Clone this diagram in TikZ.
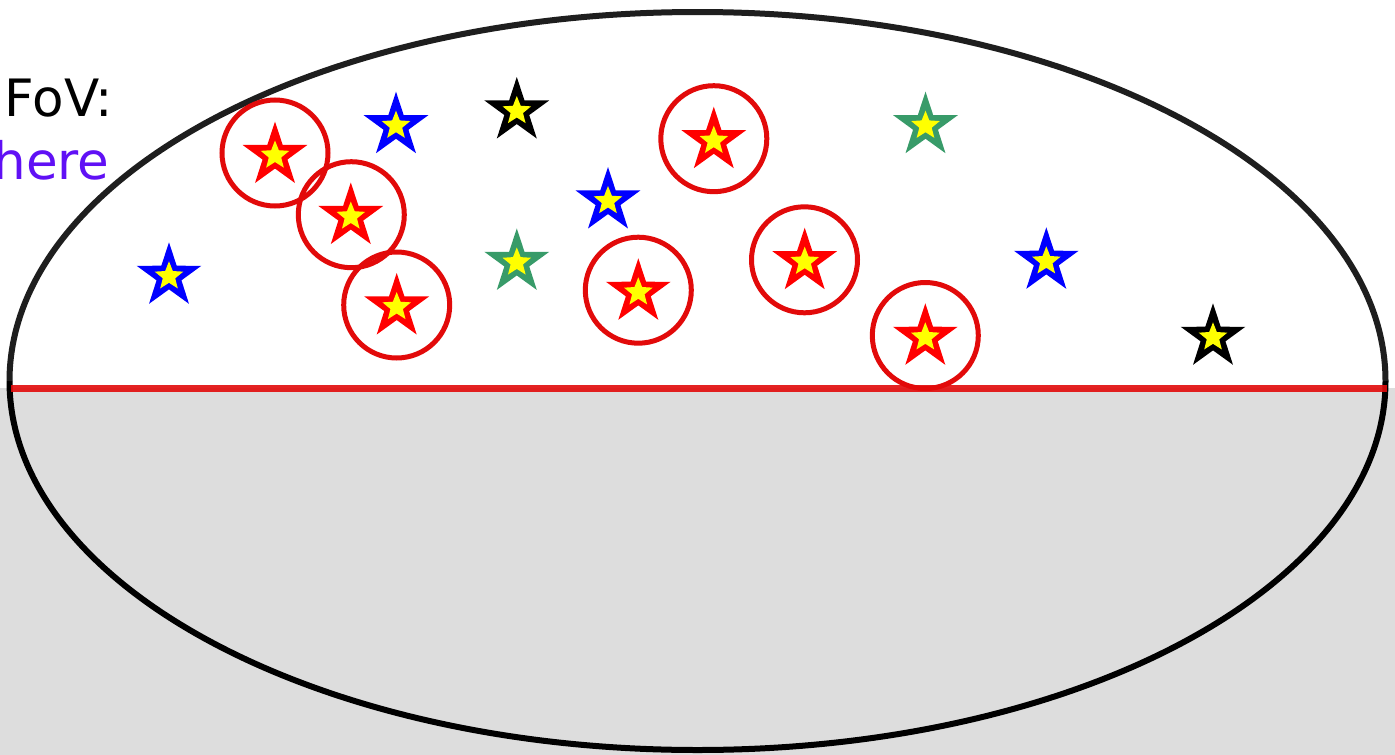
\documentclass[tikz,border=0pt]{standalone}
\usepackage{fontspec}
\setmainfont{DejaVu Sans}
\usetikzlibrary{shapes.geometric}
\definecolor{bggray}{RGB}{221,221,221}
\definecolor{ringred}{RGB}{226,10,10}
\definecolor{starred}{RGB}{255,0,0}
\definecolor{starblue}{RGB}{0,0,255}
\definecolor{stargreen}{RGB}{56,155,105}
\definecolor{staryellow}{RGB}{255,255,0}
\definecolor{txtpurple}{RGB}{96,16,245}
\definecolor{rimdark}{RGB}{30,30,30}
\tikzset{
  starouter/.style={star, star points=5, star point ratio=2.6, inner sep=0pt, outer sep=0pt, minimum size=68pt, fill=#1},
  starinner/.style={star, star points=5, star point ratio=2.3, inner sep=0pt, outer sep=0pt, minimum size=30pt, fill=staryellow},
  ring/.style={circle, draw=ringred, line width=5pt, inner sep=0pt, minimum size=106pt},
  lbl/.style={inner sep=0pt, outer sep=0pt, anchor=base east, font=\fontsize{51.5}{60}\selectfont}
}
\begin{document}
\begin{tikzpicture}[x=1pt,y=-1pt]
\useasboundingbox (0,0) rectangle (1395,755);
\clip (0,0) rectangle (1395,755);
\fill[white] (0,0) rectangle (1395,388);
\fill[bggray] (0,388) rectangle (1395,755);
% ellipse
\draw[black, line width=6pt] (9.5,381) arc[start angle=180, end angle=360, x radius=688, y radius=-369];
\draw[rimdark, line width=6pt] (9.5,381) arc[start angle=180, end angle=0, x radius=688, y radius=-369];
\coordinate (lineL) at (11,388);
\coordinate (lineR) at (1387,388);
\draw[ringred, line width=7pt, opacity=0.9] (lineL) -- (lineR);
% labels
\node[lbl] (fov) at (112.5,116.7) {FoV:};
\node[lbl, text=txtpurple] (here) at (109.5,179.3) {here};
% rings
\foreach \n/\x/\y in {c1/275/153, c2/351.3/214.7, c3/396.7/305, c4/713.8/138.7, c5/638.3/290.2, c6/804.5/259.8, c7/925.3/335.5}
  \node[ring] (\n) at (\x,\y) {};
% stars
\foreach \n/\x/\y/\c in {r1/275/155.5/starred, r2/350.8/216.5/starred, r3/396.7/307/starred, r4/713.8/140.7/starred, r5/638.3/292.3/starred, r6/804.7/261.7/starred, r7/925.3/337.3/starred,
  b1/396/125.7/starblue, b2/608/201/starblue, b3/169/276.3/starblue, b4/1046.3/261.3/starblue,
  k1/516.8/111/black, k2/1213/337.3/black,
  g1/516.8/262.4/stargreen, g2/925.5/125.7/stargreen}
{
  \node[starouter=\c] (\n) at (\x,\y) {};
  \node[starinner] (\n in) at (\n.center) {};
}
\end{tikzpicture}
\end{document}
